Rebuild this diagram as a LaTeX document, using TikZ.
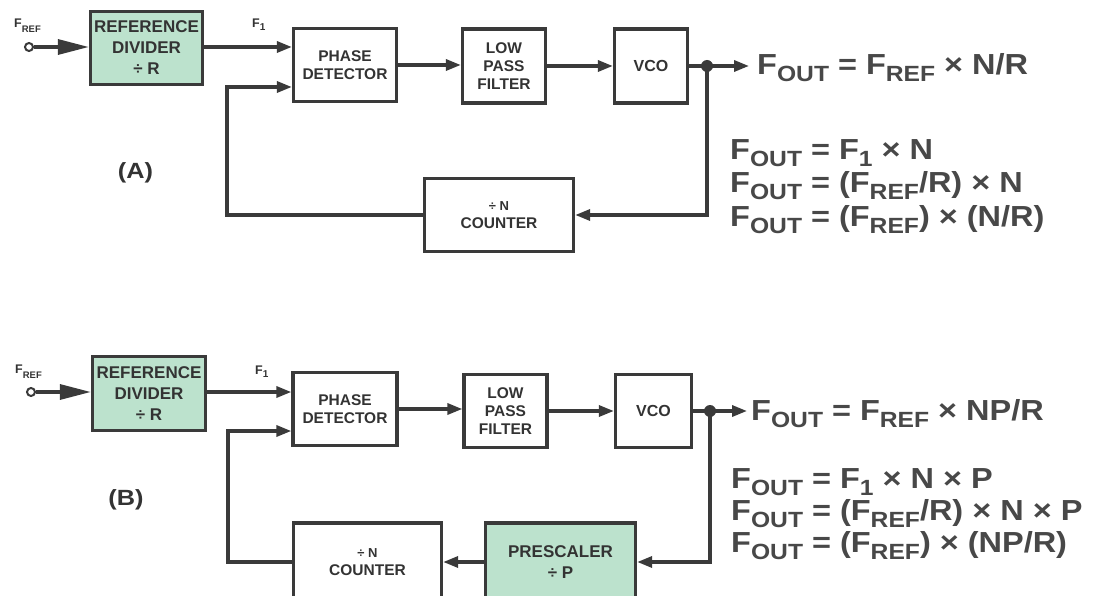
\documentclass[tikz,border=0pt]{standalone}
\usepackage{fontspec}
\setmainfont{Liberation Sans}
\usetikzlibrary{arrows.meta}
\definecolor{lc}{HTML}{3A3A3A}
\definecolor{gfill}{HTML}{BCE2CD}
\definecolor{txt}{HTML}{333333}
\definecolor{eqc}{HTML}{484848}
\newcommand{\myfs}[2]{\fontsize{#1}{#2}\selectfont}
\newcommand{\subt}[3]{\raisebox{-#2pt}{\myfs{#1}{#1}#3}}
\newcommand{\FO}{F\subt{22}{7}{OUT}}
\newcommand{\FR}{F\subt{22}{7}{REF}}
\newcommand{\eqs}[1]{\scalebox{1.12}[1]{#1}}
\tikzset{
  blk/.style={draw=lc, line width=3.3pt, fill=white, align=center, text=txt, inner sep=0pt, font=\bfseries\myfs{15.5}{18}},
  gblk/.style={blk, fill=gfill, font=\bfseries\myfs{17}{21}},
  arr/.style={draw=lc, line width=3.3pt, -{Triangle[length=15pt,width=11pt]}},
  bigarr/.style={draw=lc, line width=3.3pt, -{Triangle[length=31pt,width=15pt]}},
  wire/.style={draw=lc, line width=3.3pt},
  port/.style={circle, draw=lc, line width=2pt, fill=white, minimum size=8pt, inner sep=0pt},
  jdot/.style={circle, fill=lc, minimum size=12pt, inner sep=0pt},
  lbl/.style={anchor=base west, inner sep=0pt, text=txt, font=\bfseries\myfs{12.5}{12.5}},
  eq/.style={anchor=base west, inner sep=0pt, text=eqc, font=\bfseries\myfs{29}{29}},
  tag/.style={inner sep=0pt, text=txt, font=\bfseries\myfs{22}{22}}
}
\begin{document}
\begin{tikzpicture}[x=1pt,y=-1pt]
\useasboundingbox (0,0) rectangle (1093,596);
\clip (0,0) rectangle (1093,596);

% ---------------- (A) ----------------
\node[gblk, minimum width=112pt, minimum height=73pt] (refA) at (146.5,48) {REFERENCE\\DIVIDER\\{\myfs{17}{22}÷ R}};
\node[blk, minimum width=103pt, minimum height=73pt] (pdA) at (345,65) {PHASE\\DETECTOR};
\node[blk, minimum width=83pt, minimum height=74pt] (lpfA) at (504,66) {LOW\\PASS\\FILTER};
\node[blk, minimum width=73pt, minimum height=74pt, font=\bfseries\myfs{16}{18}] (vcoA) at (651,66) {VCO};
\node[blk, minimum width=149pt, minimum height=73pt] (cntA) at (499,215) {{\myfs{13}{18}÷ N}\\COUNTER};

\node[port] (inA) at (29,47) {};
\node[lbl] (frefA) at (14,28) {F\subt{9.5}{5}{REF}};
\node[lbl] (f1A) at (252,28) {F\subt{10}{3}{1}};
\node[jdot] (dotA) at (707,66) {};
\coordinate (fbA) at (227,87);
\coordinate (tipA) at (749,66);

\draw[bigarr] (inA) -- (inA -| refA.west);
\draw[arr] (refA.east |- inA) -- (inA -| pdA.west);
\draw[arr] (pdA.east) -- (pdA.east -| lpfA.west);
\draw[arr] (lpfA.east) -- (vcoA.west);
\draw[wire] (vcoA.east) -- (dotA.center);
\draw[arr] (dotA.center) -- (tipA);
\draw[arr] (dotA.center) |- (cntA.east);
\draw[arr] (cntA.west) -| (fbA) -- (fbA -| pdA.west);

\node[tag] (tagA) at (135.5,173) {\scalebox{1.15}[1]{(A)}};

\node[eq] (eqA0) at (757,75) {\eqs{\FO{} = \FR{} × N/R}};
\node[eq] (eqA1) at (730,160) {\eqs{\FO{} = F\subt{22}{7}{1} × N}};
\node[eq] (eqA2) at (730,193) {\eqs{\FO{} = (\FR{}/R) × N}};
\node[eq] (eqA3) at (730,227) {\eqs{\FO{} = (\FR{}) × (N/R)}};

% ---------------- (B) ----------------
\node[gblk, minimum width=113pt, minimum height=74pt] (refB) at (149,393.5) {REFERENCE\\DIVIDER\\{\myfs{17}{22}÷ R}};
\node[blk, minimum width=104pt, minimum height=73pt] (pdB) at (345,409) {PHASE\\DETECTOR};
\node[blk, minimum width=83pt, minimum height=73pt] (lpfB) at (505.5,411) {LOW\\PASS\\FILTER};
\node[blk, minimum width=76pt, minimum height=73pt, font=\bfseries\myfs{16}{18}] (vcoB) at (653.5,411) {VCO};
\node[gblk, minimum width=150pt, minimum height=78pt] (preB) at (560.5,562) {PRESCALER\\÷ P};
\node[blk, minimum width=148pt, minimum height=78pt] (cntB) at (367.5,562) {{\myfs{13}{18}÷ N}\\COUNTER};

\node[port] (inB) at (31,392) {};
\node[lbl] (frefB) at (15,373) {F\subt{9.5}{5}{REF}};
\node[lbl] (f1B) at (255,374) {F\subt{10}{3}{1}};
\node[jdot] (dotB) at (710,411) {};
\coordinate (fbB) at (228,431);
\coordinate (tipB) at (747,411);

\draw[bigarr] (inB) -- (inB -| refB.west);
\draw[arr] (refB.east |- inB) -- (inB -| pdB.west);
\draw[arr] (pdB.east) -- (pdB.east -| lpfB.west);
\draw[arr] (lpfB.east) -- (vcoB.west);
\draw[wire] (vcoB.east) -- (dotB.center);
\draw[arr] (dotB.center) -- (tipB);
\draw[arr] (dotB.center) |- (preB.east);
\draw[arr] (preB.west) -- (cntB.east);
\draw[arr] (cntB.west) -| (fbB) -- (fbB -| pdB.west);

\node[tag] (tagB) at (126,500) {\scalebox{1.15}[1]{(B)}};

\node[eq] (eqB0) at (751,420) {\eqs{\FO{} = \FR{} × NP/R}};
\node[eq] (eqB1) at (731,488) {\eqs{\FO{} = F\subt{22}{7}{1} × N × P}};
\node[eq] (eqB2) at (731,520) {\eqs{\FO{} = (\FR{}/R) × N × P}};
\node[eq] (eqB3) at (731,552) {\eqs{\FO{} = (\FR{}) × (NP/R)}};
\end{tikzpicture}
\end{document}
